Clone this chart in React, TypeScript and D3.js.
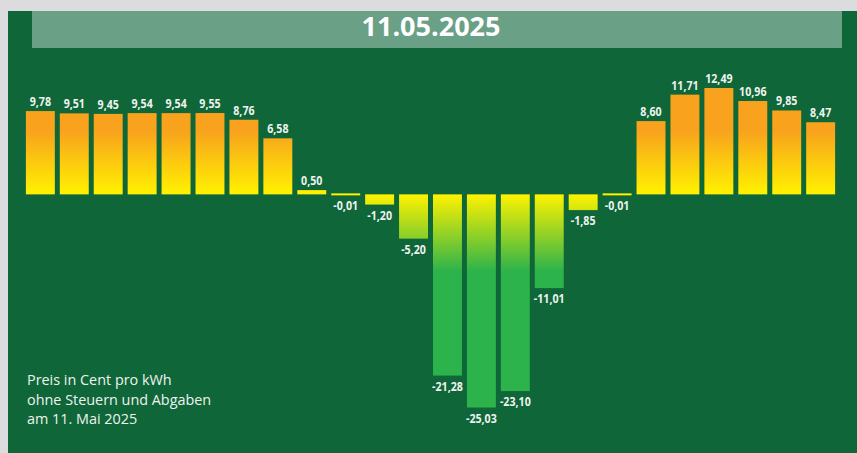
import React from "react";
import * as d3 from "d3";

const hours = d3.range(24).map((h) => `${h}`);
const prices = [
  9.78, 9.51, 9.45, 9.54, 9.54, 9.55, 8.76, 6.58, 0.5, -0.01, -1.2, -5.2,
  -21.28, -25.03, -23.1, -11.01, -1.85, -0.01, 8.6, 11.71, 12.49, 10.96, 9.85, 8.47,
];
const titleText = "11.05.2025";
const noteLines = ["Preis in Cent pro kWh", "ohne Steuern und Abgaben", "am 11. Mai 2025"];

const W = 857;
const H = 453;

export default function App() {
  const x = d3.scaleBand<string>().domain(hours).range([22.5, 838.5]).paddingInner(5 / 34).paddingOuter(0.1);
  const y = d3.scaleLinear().domain([-25.03, 12.49]).range([407.5, 88]);
  const y0 = y(0);
  const fmt = (v: number) => v.toFixed(2).replace(".", ",");

  return (
    <svg width={W} height={H} style={{ position: "absolute", left: 0, top: 0 }}>
      <defs>
        <linearGradient id="pos" gradientUnits="userSpaceOnUse" x1="0" x2="0" y1={y(12.49)} y2={y0}>
          <stop offset="0" stopColor="#f8a21d" />
          <stop offset="0.4" stopColor="#f8a21d" />
          <stop offset="1" stopColor="#fff200" />
        </linearGradient>
        <linearGradient id="neg" gradientUnits="userSpaceOnUse" x1="0" x2="0" y1={y0} y2={y(-25.03)}>
          <stop offset="0" stopColor="#fff200" />
          <stop offset="0.36" stopColor="#2db34b" />
          <stop offset="1" stopColor="#2db34b" />
        </linearGradient>
      </defs>
      <rect x={0} y={0} width={W} height={H} fill="#dcdcde" />
      <rect x={8} y={11} width={W - 8} height={H - 11} fill="#0f6639" />
      <rect x={32} y={11} width={810} height={37} fill="#6aa086" />
      <text
        x={431}
        y={36}
        textAnchor="middle"
        fill="#ffffff"
        fontFamily="'Open Sans', sans-serif"
        fontWeight={700}
        fontSize={27}
      >
        {titleText}
      </text>
      {prices.map((v, i) => {
        const bx = x(hours[i])!;
        const bw = x.bandwidth();
        let top = Math.min(y(v), y0);
        let h = Math.abs(y(v) - y0);
        if (h < 2) {
          h = 2;
          top = v < 0 ? y0 - 1 : y0 - 2;
        }
        const pos = v >= 0;
        const ly = pos ? top - 5 : top + h + 15;
        return (
          <g key={i}>
            <rect x={bx} y={top} width={bw} height={h} fill={pos ? "url(#pos)" : "url(#neg)"} />
            <text
              transform={`translate(${bx + bw / 2},${ly}) scale(0.82,1)`}
              textAnchor="middle"
              fill="#eef3ee"
              fontFamily="'Open Sans', sans-serif"
              fontWeight={700}
              fontSize={13}
            >
              {fmt(v)}
            </text>
          </g>
        );
      })}
      {noteLines.map((t, i) => (
        <text
          key={i}
          x={27}
          y={385 + i * 19.5}
          fill="#eef3ee"
          fontFamily="'Open Sans', sans-serif"
          fontSize={14.4}
        >
          {t}
        </text>
      ))}
    </svg>
  );
}
